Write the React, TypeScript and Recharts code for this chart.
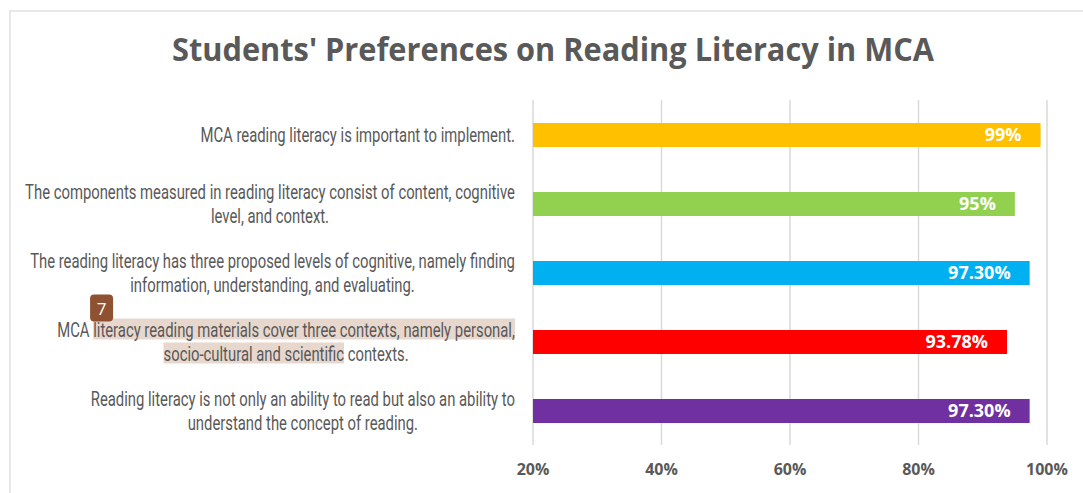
import { BarChart, Bar, XAxis, YAxis, CartesianGrid, Cell, LabelList } from "recharts";

const title = "Students' Preferences on Reading Literacy in MCA";

const categories = [
  "MCA reading literacy is important to implement.",
  "The components measured in reading literacy consist of content, cognitive\nlevel, and context.",
  "The reading literacy has three proposed levels of cognitive, namely finding\ninformation, understanding, and evaluating.",
  "MCA literacy reading materials cover three contexts, namely personal,\nsocio-cultural and scientific contexts.",
  "Reading literacy is not only an ability to read but also an ability to\nunderstand the concept of reading.",
];
const values = [99, 95, 97.3, 93.78, 97.3];
const valueLabels = ["99%", "95%", "97.30%", "93.78%", "97.30%"];
const barColors = ["#FFC000", "#92D050", "#00B0F0", "#FF0000", "#7030A0"];
const xTicks = [20, 40, 60, 80, 100];

// the pdf highlight + comment badge sitting on the 4th label
const highlightCategory = 3;
const highlightSpans = [
  { line: 0, from: 4, to: 69 },
  { line: 1, from: 0, to: 29 },
];
const badgeText = "7";

const data = categories.map((name, i) => ({ name, value: values[i], label: valueLabels[i] }));

const LABEL_FONT = "Roboto";
const LABEL_SIZE = 21;
const TEXT_GREY = "#595959";

let ctx: CanvasRenderingContext2D | null = null;
function measure(s: string) {
  if (!ctx) ctx = document.createElement("canvas").getContext("2d");
  if (!ctx) return s.length * LABEL_SIZE * 0.47;
  ctx.font = `${LABEL_SIZE}px ${LABEL_FONT}`;
  return ctx.measureText(s).width;
}

// squeeze the labels horizontally so they read like the narrow office font
const labelScale = () => 490 / measure(categories[1].split("\n")[0]);

function CategoryTick(props: any) {
  const { x, y, payload } = props;
  const text: string = payload.value;
  const idx = categories.indexOf(text);
  const lines = text.split("\n");
  const k = labelScale();
  const widths = lines.map(measure);
  const maxW = Math.max(...widths);
  const mid = -maxW / 2;
  const lineH = 24;
  const centerOf = (i: number) => (i - (lines.length - 1) / 2) * lineH;

  const marks =
    idx === highlightCategory
      ? highlightSpans.map((s) => {
          const line = lines[s.line];
          const start = mid - widths[s.line] / 2 + measure(line.slice(0, s.from));
          const w = measure(line.slice(s.from, s.to));
          return { x: start, w, cy: centerOf(s.line) };
        })
      : [];

  return (
    <g transform={`translate(${x},${y})`}>
      <g transform={`scale(${k},1)`}>
        {marks.map((m, i) => (
          <rect key={i} x={m.x} y={m.cy - 11} width={m.w} height={21} fill="#E7D7CD" />
        ))}
        {lines.map((l, i) => (
          <text
            key={i}
            x={mid}
            y={centerOf(i)}
            dy="0.36em"
            textAnchor="middle"
            fontFamily={LABEL_FONT}
            fontSize={LABEL_SIZE}
            fill={TEXT_GREY}
          >
            {l}
          </text>
        ))}
      </g>
      {marks.length > 0 && (
        <g transform={`translate(${marks[0].x * k - 3},${marks[0].cy - 35})`}>
          <rect width={23} height={27} rx={4} fill="#8E5233" />
          <text x={11.5} y={14} dy="0.36em" textAnchor="middle" fontFamily="Open Sans" fontSize={17} fill="#fff">
            {badgeText}
          </text>
        </g>
      )}
    </g>
  );
}

export default function App() {
  return (
    <div style={{ position: "fixed", left: 0, top: 0, width: 1083, height: 493, background: "#fff" }}>
      <div
        style={{
          position: "absolute",
          left: 9,
          top: 10,
          width: 1074,
          height: 483,
          borderTop: "2px solid #E8E8E8",
          borderLeft: "2px solid #E8E8E8",
          boxSizing: "border-box",
        }}
      />
      <svg width={1083} height={90} style={{ position: "absolute", left: 0, top: 0 }}>
        <text
          x={553}
          y={61}
          textAnchor="middle"
          fontFamily="Open Sans"
          fontWeight={700}
          fontSize={33}
          fill={TEXT_GREY}
          textLength={762}
          lengthAdjust="spacingAndGlyphs"
        >
          {title}
        </text>
      </svg>
      <div style={{ position: "absolute", left: 0, top: 0 }}>
        <BarChart
          width={1083}
          height={493}
          data={data}
          layout="vertical"
          margin={{ top: 100, right: 36, bottom: 0, left: 0 }}
        >
          <CartesianGrid vertical horizontal={false} stroke="#D9D9D9" strokeWidth={1.5} />
          <XAxis
            type="number"
            domain={[20, 100]}
            ticks={xTicks}
            tickFormatter={(v: number) => `${v}%`}
            axisLine={false}
            tickLine={false}
            tickMargin={13}
            height={48}
            tick={{ fontFamily: "Open Sans", fontWeight: 700, fontSize: 16, fill: TEXT_GREY }}
          />
          <YAxis
            type="category"
            dataKey="name"
            width={533}
            axisLine={false}
            tickLine={false}
            tickMargin={12}
            interval={0}
            tick={<CategoryTick />}
          />
          <Bar dataKey="value" barSize={24} isAnimationActive={false}>
            {data.map((_, i) => (
              <Cell key={i} fill={barColors[i]} />
            ))}
            <LabelList
              dataKey="label"
              position="insideRight"
              offset={19}
              style={{ fontFamily: "Open Sans", fontWeight: 700, fontSize: 18, fill: "#fff" }}
            />
          </Bar>
        </BarChart>
      </div>
    </div>
  );
}
